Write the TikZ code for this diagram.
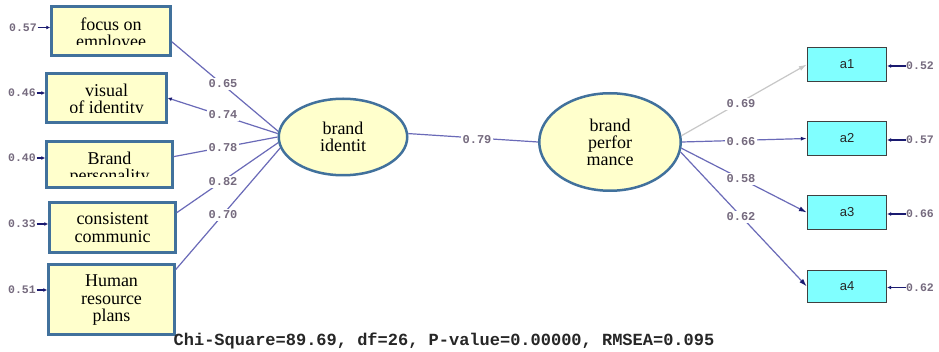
\documentclass[tikz,border=0pt]{standalone}
\usepackage{fontspec}
\setmainfont{Liberation Serif}
\newfontfamily\monof{Liberation Mono}
\newfontfamily\sansf{Liberation Sans}
\usetikzlibrary{shapes.geometric,arrows.meta}
\definecolor{boxblue}{HTML}{41719C}
\definecolor{ylw}{HTML}{FFFFCC}
\definecolor{cyanb}{HTML}{80FFFF}
\definecolor{pathc}{HTML}{6A6AB8}
\definecolor{navyc}{HTML}{1A1A70}
\definecolor{lblc}{HTML}{756A7E}
\begin{document}
\begin{tikzpicture}[x=1pt,y=-1pt,
  ind/.style={draw=boxblue, line width=2.5pt, fill=ylw, rectangle, inner sep=0pt},
  lat/.style={draw=boxblue, line width=2.5pt, fill=ylw, ellipse, inner sep=0pt, align=center, font=\fontsize{18}{17}\selectfont},
  obs/.style={draw=black!75, line width=1.3pt, fill=cyanb, minimum width=79pt, minimum height=34pt, inner sep=0pt, font=\sansf\fontsize{13}{13}\selectfont, text=black!85},
  txt/.style={anchor=base, inner sep=0pt, font=\fontsize{18}{17}\selectfont},
  lbl/.style={font=\monof\bfseries\fontsize{12}{12}\selectfont, text=lblc, fill=white, inner sep=1.5pt},
  errl/.style={font=\monof\bfseries\fontsize{11.5}{11.5}\selectfont, text=lblc, inner sep=0.5pt},
  lnk/.style={draw=pathc, line width=1.2pt},
  err/.style={draw=navyc, line width=1.2pt, -{Latex[length=4pt,width=4pt]}},
]
\useasboundingbox[fill=white] (0,0) rectangle (939,352);

% indicator boxes (left)
\node[ind, minimum width=119pt, minimum height=49pt] (b1) at (111,31) {};
\node[ind, minimum width=120pt, minimum height=49pt] (b2) at (106.5,98) {};
\node[ind, minimum width=126pt, minimum height=46pt] (b3) at (109.5,164.5) {};
\node[ind, minimum width=126pt, minimum height=50pt] (b4) at (112.5,227.5) {};
\node[ind, minimum width=126pt, minimum height=70pt] (b5) at (111.5,299.5) {};

\begin{scope}
  \clip (52,7) rectangle (170,45);
  \node[txt] (t1a) at (111,31) {focus on};
  \node[txt] (t1b) at (111,48) {employee};
\end{scope}
\begin{scope}
  \clip (47,74) rectangle (166,113);
  \node[txt] (t2a) at (106.5,97) {visual};
  \node[txt] (t2b) at (106.5,114) {of identity};
\end{scope}
\begin{scope}
  \clip (47,142) rectangle (172,177);
  \node[txt] (t3a) at (109.5,165) {Brand};
  \node[txt] (t3b) at (109.5,182) {personality};
\end{scope}
\node[txt] (t4a) at (112.5,225) {consistent};
\node[txt] (t4b) at (112.5,243) {communic};
\node[txt] (t5a) at (111.5,287) {Human};
\node[txt] (t5b) at (111.5,304.5) {resource};
\node[txt] (t5c) at (111.5,321.5) {plans};

% latent variables
\node[lat, minimum width=128.5pt, minimum height=76.5pt] (bi) at (343,137) {brand\\identit};
\node[lat, minimum width=141.5pt, minimum height=97.5pt] (bp) at (610,142) {brand\\perfor\\mance};

% observed boxes (right)
\node[obs] (a1) at (847,64.5) {a1};
\node[obs] (a2) at (847,138.5) {a2};
\node[obs] (a3) at (847,212.5) {a3};
\node[obs, minimum height=32pt] (a4) at (847,286.5) {a4};

% loadings left
\draw[lnk] (bi.175) -- (b1.-10);
\draw[lnk, -{Latex[length=4pt,width=4pt,color=navyc]}] (bi.177) -- (b2.east);
\draw[lnk] (bi.180) -- (b3.7);
\draw[lnk] (bi.185) -- (b4.13);
\draw[lnk] (bi.190) -- (b5.25);

% structural path
\draw[lnk] (bi.3) -- (bp.west);

% loadings right
\draw[draw=black!22, line width=1.2pt, -{Latex[length=8pt,width=5pt]}] (bp.5) -- (a1.west);
\draw[lnk, -{Latex[length=6pt,width=4pt,color=navyc]}] (bp.0) -- (a2.west);
\draw[lnk, -{Latex[length=8pt,width=5pt,color=navyc]}] (bp.-5) -- (a3.west);
\draw[lnk, -{Latex[length=8pt,width=5pt,color=navyc]}] (bp.-8) -- (a4.west);

% loading labels
\node[lbl] (l1) at (223,84) {0.65};
\node[lbl] (l2) at (223,115) {0.74};
\node[lbl] (l3) at (223,148) {0.78};
\node[lbl] (l4) at (223,182) {0.82};
\node[lbl] (l5) at (223,215) {0.70};
\node[lbl] (l6) at (477,140) {0.79};
\node[lbl] (l7) at (741,104) {0.69};
\node[lbl] (l8) at (741,142) {0.66};
\node[lbl] (l9) at (741,179) {0.58};
\node[lbl] (l10) at (741,217) {0.62};

% error terms left
\node[errl] (e1) at (23,27.5) {0.57};
\node[errl] (e2) at (22,93) {0.46};
\node[errl] (e3) at (22,158) {0.40};
\node[errl] (e4) at (22,224) {0.33};
\node[errl] (e5) at (22,290) {0.51};
\draw[err] (e1.east) -- (e1.east -| b1.west);
\draw[err] (e2.east) -- (e2.east -| b2.west);
\draw[err] (e3.east) -- (e3.east -| b3.west);
\draw[err] (e4.east) -- (e4.east -| b4.west);
\draw[err] (e5.east) -- (e5.east -| b5.west);

% error terms right
\node[errl] (f1) at (920,66) {0.52};
\node[errl] (f2) at (920,140) {0.57};
\node[errl] (f3) at (920,214) {0.66};
\node[errl] (f4) at (920,287.5) {0.62};
\draw[err] (f1.west) -- (f1.west -| a1.east);
\draw[err] (f2.west) -- (f2.west -| a2.east);
\draw[err] (f3.west) -- (f3.west -| a3.east);
\draw[err] (f4.west) -- (f4.west -| a4.east);

% fit statistics
\node[font=\monof\bfseries\fontsize{17}{17}\selectfont, text=black!85, inner sep=0pt] (fit) at (444,341) {Chi-Square=89.69, df=26, P-value=0.00000, RMSEA=0.095};
\end{tikzpicture}
\end{document}
